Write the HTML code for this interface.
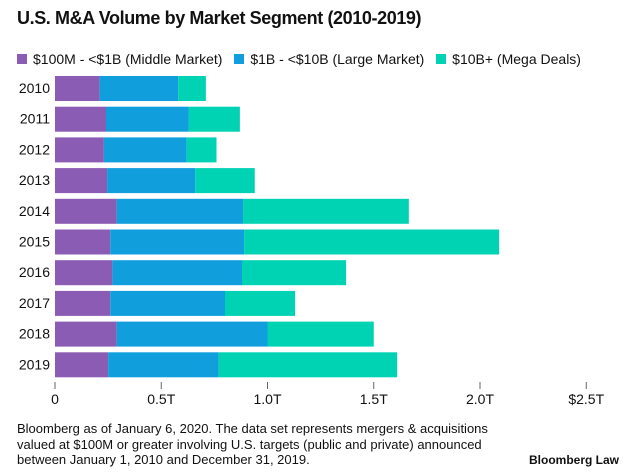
<!DOCTYPE html>
<html><head><meta charset="utf-8"><style>
body{margin:0;width:633px;height:474px;background:#fff;font-family:"Liberation Sans",sans-serif;overflow:hidden;position:relative;color:#111}
.t{position:absolute}
</style></head><body>
<div class="t" style="left:17px;top:8px;font-size:18px;font-weight:bold;letter-spacing:-0.4px">U.S. M&amp;A Volume by Market Segment (2010-2019)</div>
<div class="t" style="left:17px;top:51px;font-size:14px;white-space:nowrap">
<span><span style="display:inline-block;width:10px;height:10px;background:#8a5cb4;margin-right:6px"></span>$100M - &lt;$1B (Middle Market)</span>
<span style="margin-left:8px"><span style="display:inline-block;width:10px;height:10px;background:#109fdc;margin-right:6px"></span>$1B - &lt;$10B (Large Market)</span>
<span style="margin-left:8px"><span style="display:inline-block;width:10px;height:10px;background:#00d2b4;margin-right:6px"></span>$10B+ (Mega Deals)</span>
</div>
<svg id="c" width="633" height="474" style="position:absolute;left:0;top:0"></svg>
<div class="t" style="left:17px;top:421px;font-size:13px;line-height:15.5px;width:498px">Bloomberg as of January 6, 2020. The data set represents mergers &amp; acquisitions valued at $100M or greater involving U.S. targets (public and private) announced between January 1, 2010 and December 31, 2019.</div>
<div class="t" style="left:529px;top:453px;font-size:12px;font-weight:bold">Bloomberg Law</div>
<script>
const years=["2010","2011","2012","2013","2014","2015","2016","2017","2018","2019"];
const middle=[0.21,0.24,0.23,0.245,0.29,0.26,0.27,0.26,0.29,0.25];
const large=[0.37,0.39,0.39,0.415,0.595,0.63,0.61,0.54,0.71,0.52];
const mega=[0.13,0.24,0.14,0.28,0.78,1.20,0.49,0.33,0.50,0.84];
const ticks=[0,0.5,1.0,1.5,2.0,2.5];
const tickLabels=["0","0.5T","1.0T","1.5T","2.0T","$2.5T"];
const NS="http://www.w3.org/2000/svg",svg=document.getElementById('c');
const x=v=>55+v*212.5, y=i=>76+i*30.7, bh=25;
function mk(t,a){const e=document.createElementNS(NS,t);for(const k in a)e.setAttribute(k,a[k]);svg.appendChild(e);return e;}
ticks.forEach((v,i)=>{
 const l=mk('line',{x1:x(v),x2:x(v),y1:382,y2:389,stroke:'#666'});
 
 
 const t=mk('text',{x:x(v),y:404,'text-anchor':'middle','font-size':14,fill:'#111'});t.textContent=tickLabels[i];
 
 
});
const cols=['#8a5cb4','#109fdc','#00d2b4'];
years.forEach((yr,i)=>{
 const t=mk('text',{x:50,y:y(i)+17,'text-anchor':'end','font-size':14,fill:'#111'});t.textContent=yr;
 
 
 let s=0;[middle[i],large[i],mega[i]].forEach((v,j)=>{
  const r=mk('rect',{x:x(s),y:y(i),width:x(s+v)-x(s),height:bh,fill:cols[j]});
  
  
  s+=v;});
});
</script>
</body></html>
